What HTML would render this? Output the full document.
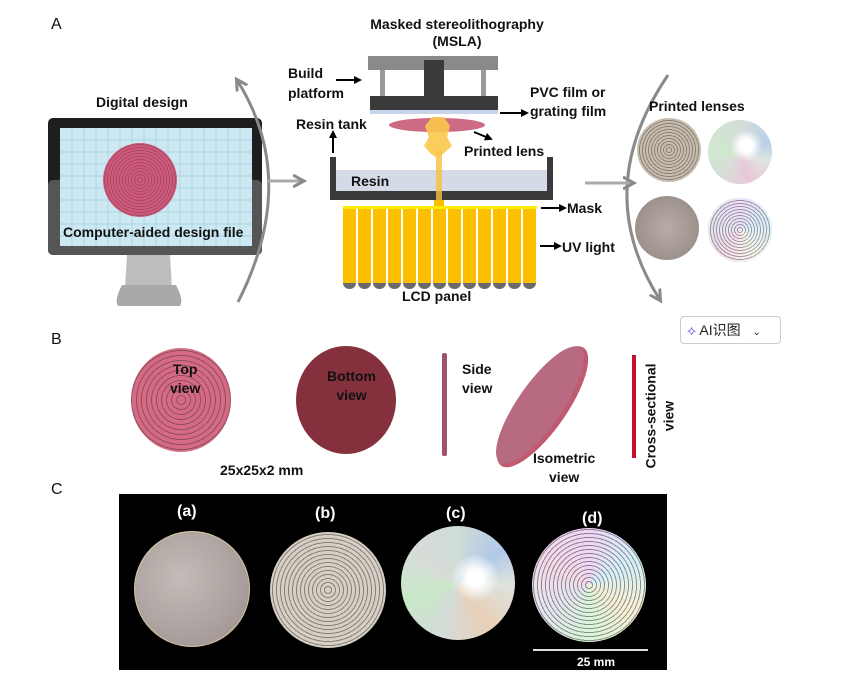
<!DOCTYPE html>
<html><head><meta charset="utf-8"><style>
body{margin:0;width:854px;height:676px;background:#fff;position:relative;overflow:hidden;font-family:"Liberation Sans","Noto Sans CJK SC",sans-serif;}
.a{position:absolute}
.t{position:absolute;font-weight:bold;font-size:14px;color:#111;white-space:nowrap;line-height:17px}
.ring{position:absolute;border-radius:50%}
</style></head><body>
<svg class="a" style="left:0;top:0" width="854" height="676">
<defs><marker id="ah" markerWidth="8" markerHeight="8" refX="6" refY="4" orient="auto" markerUnits="userSpaceOnUse"><path d="M0,0 L8,4 L0,8 z" fill="#000"/></marker>
<marker id="gh" markerWidth="14" markerHeight="14" refX="10" refY="7" orient="auto" markerUnits="userSpaceOnUse"><path d="M0,1 L11,7 L0,13" fill="none" stroke="#8a8a8a" stroke-width="3"/></marker></defs>
<rect x="48" y="118" width="214" height="137" rx="5" fill="#1e1e1e"/>
<rect x="48" y="180" width="214" height="75" rx="5" fill="#555"/>
<rect x="60" y="128" width="192" height="118" fill="#cde8f2"/>
<g stroke="#9ccfe0" stroke-width="0.7">
<path d="M72 128V246M84 128V246M96 128V246M108 128V246M120 128V246M132 128V246M144 128V246M156 128V246M168 128V246M180 128V246M192 128V246M204 128V246M216 128V246M228 128V246M240 128V246"/>
<path d="M60 140H252M60 152H252M60 164H252M60 176H252M60 188H252M60 200H252M60 212H252M60 224H252M60 236H252"/>
</g>
<path d="M127 255 L170 255 L172 288 L125 288 z" fill="#bdbdbd"/>
<path d="M122 285 L176 285 Q184 300 180 306 L118 306 Q114 300 122 285z" fill="#a9a9a9"/>
<path d="M238 302 Q300 180 237 80" fill="none" stroke="#8a8a8a" stroke-width="3" marker-end="url(#gh)"/>
<line x1="268" y1="181" x2="303" y2="181" stroke="#aaa" stroke-width="3" marker-end="url(#gh)"/>
<path d="M668 75 Q590 190 660 300" fill="none" stroke="#8a8a8a" stroke-width="3" marker-end="url(#gh)"/>
<line x1="585" y1="183" x2="633" y2="183" stroke="#aaa" stroke-width="3" marker-end="url(#gh)"/>
<rect x="368" y="56" width="130" height="14" fill="#8a8a8a"/>
<rect x="380" y="70" width="5" height="27" fill="#999"/>
<rect x="481" y="70" width="5" height="27" fill="#999"/>
<rect x="424" y="60" width="20" height="37" fill="#3a3a3a"/>
<rect x="370" y="96" width="128" height="14" fill="#3a3a3a"/>
<rect x="370" y="110" width="128" height="4" fill="#c8d4ec"/>
<ellipse cx="437" cy="125" rx="48" ry="7" fill="#c4516f" opacity="0.85"/>
<rect x="336" y="170" width="211" height="21" fill="#d5dbe6"/>
<path d="M330 157h6v34h211v-34h6v43h-223z" fill="#3a3a3a"/>
<rect x="436" y="150" width="6" height="52" fill="#f5c040" opacity="0.8"/>
<path d="M432 117 L444 117 L450 126 L447 137 L452 146 L444 153 L437 158 L430 153 L424 146 L429 137 L425 126z" fill="#fbc84a" opacity="0.9"/>
<rect x="434" y="200" width="10" height="8" fill="#fcc000"/>
<rect x="343" y="206" width="194" height="3" fill="#ffee00"/>
<g fill="#fcc000">
<rect x="343" y="209" width="13" height="74"/><rect x="358" y="209" width="13" height="74"/><rect x="373" y="209" width="13" height="74"/><rect x="388" y="209" width="13" height="74"/><rect x="403" y="209" width="13" height="74"/><rect x="418" y="209" width="13" height="74"/><rect x="433" y="209" width="13" height="74"/><rect x="448" y="209" width="13" height="74"/><rect x="463" y="209" width="13" height="74"/><rect x="478" y="209" width="13" height="74"/><rect x="493" y="209" width="13" height="74"/><rect x="508" y="209" width="13" height="74"/><rect x="523" y="209" width="13" height="74"/>
</g>
<g fill="#6a6a6a">
<path d="M343 283h13a6.5 6 0 0 1-13 0z"/><path d="M358 283h13a6.5 6 0 0 1-13 0z"/><path d="M373 283h13a6.5 6 0 0 1-13 0z"/><path d="M388 283h13a6.5 6 0 0 1-13 0z"/><path d="M403 283h13a6.5 6 0 0 1-13 0z"/><path d="M418 283h13a6.5 6 0 0 1-13 0z"/><path d="M433 283h13a6.5 6 0 0 1-13 0z"/><path d="M448 283h13a6.5 6 0 0 1-13 0z"/><path d="M463 283h13a6.5 6 0 0 1-13 0z"/><path d="M478 283h13a6.5 6 0 0 1-13 0z"/><path d="M493 283h13a6.5 6 0 0 1-13 0z"/><path d="M508 283h13a6.5 6 0 0 1-13 0z"/><path d="M523 283h13a6.5 6 0 0 1-13 0z"/>
</g>
<g stroke="#000" stroke-width="2" marker-end="url(#ah)">
<line x1="336" y1="80" x2="360" y2="80"/>
<line x1="333" y1="153" x2="333" y2="132"/>
<line x1="500" y1="113" x2="527" y2="113"/>
<line x1="474" y1="132" x2="491" y2="139"/>
<line x1="541" y1="208" x2="565" y2="208"/>
<line x1="540" y1="246" x2="560" y2="246"/>
</g>
<ellipse cx="346" cy="400" rx="50" ry="54" fill="#85303d"/>
<rect x="442" y="353" width="5" height="103" rx="2" fill="#a05070"/>
<g transform="translate(540,405) rotate(-55)"><ellipse cx="0" cy="3" rx="72" ry="24" fill="#c05a70"/><ellipse cx="0" cy="0" rx="70" ry="22" fill="#b86a80"/></g>
<rect x="632" y="355" width="4" height="103" fill="#c8102e"/>
<rect x="119" y="494" width="548" height="176" fill="#000"/>
<line x1="533" y1="650" x2="648" y2="650" stroke="#ddd" stroke-width="2"/>
</svg>
<div class="ring" style="left:103px;top:143px;width:74px;height:74px;background:repeating-radial-gradient(circle,#d25a78 0 2px,#a24a6a 2px 3px)"></div>
<div class="ring" style="left:131px;top:348px;width:100px;height:104px;background:repeating-radial-gradient(circle,#d76a82 0 4px,#8a5066 4px 5px)"></div>
<div class="ring" style="left:637px;top:118px;width:64px;height:64px;background:repeating-radial-gradient(circle,#c8beb0 0 2px,#8a8076 2px 3px)"></div>
<div class="ring" style="left:708px;top:120px;width:64px;height:64px;background:radial-gradient(circle at 60% 40%,#fff 0 6px,transparent 16px),conic-gradient(#d5ddd8 0,#b8d0e8 20%,#e0e4e0 30%,#e8c8d8 45%,#d8ddd8 60%,#cfe8cf 75%,#d5ddd8)"></div>
<div class="ring" style="left:635px;top:196px;width:64px;height:64px;background:radial-gradient(circle,#b8aca8,#928680)"></div>
<div class="ring" style="left:708px;top:198px;width:64px;height:64px;background:repeating-radial-gradient(circle,rgba(255,255,255,.5) 0 2px,rgba(80,80,90,.45) 2px 3px),conic-gradient(#e0c0f0,#bde,#eed,#e8c0d8,#ccd,#e0c0f0)"></div>
<div class="ring" style="left:134px;top:531px;width:114px;height:114px;background:radial-gradient(circle at 40% 40%,#c4bcb8,#9a8e8c);border:1px solid #d8c8a0"></div>
<div class="ring" style="left:270px;top:532px;width:116px;height:116px;background:repeating-radial-gradient(circle,#d5cfc6 0 3px,#8a8078 3px 4px)"></div>
<div class="ring" style="left:401px;top:526px;width:114px;height:114px;background:radial-gradient(circle at 65% 45%,#fff 0 8px,transparent 24px),conic-gradient(#d0dcd8,#b0c8e8 15%,#dde2de 25%,#e8d0b8 40%,#d5dcd8 55%,#c8e8c8 70%,#d8dcd8 85%,#d0dcd8)"></div>
<div class="ring" style="left:532px;top:528px;width:114px;height:114px;background:repeating-radial-gradient(circle,rgba(255,255,255,.5) 0 3px,rgba(70,70,80,.5) 3px 4px),conic-gradient(#e0b0e8,#b0e0f0,#eee0b0,#b8e8b8,#ccd,#e8b8d0,#e0b0e8)"></div>
<div class="t" style="left:51px;top:16px;font-weight:normal;font-size:16px">A</div>
<div class="t" style="left:51px;top:331px;font-weight:normal;font-size:16px">B</div>
<div class="t" style="left:51px;top:481px;font-weight:normal;font-size:16px">C</div>
<div class="t" style="left:96px;top:94px">Digital design</div>
<div class="t" style="left:63px;top:224px">Computer-aided design file</div>
<div class="t" style="left:340px;top:16px;width:234px;text-align:center">Masked stereolithography<br>(MSLA)</div>
<div class="t" style="left:288px;top:63px;line-height:20px">Build<br>platform</div>
<div class="t" style="left:296px;top:116px">Resin tank</div>
<div class="t" style="left:530px;top:83px;line-height:19px">PVC film or<br>grating film</div>
<div class="t" style="left:464px;top:143px">Printed lens</div>
<div class="t" style="left:351px;top:173px">Resin</div>
<div class="t" style="left:567px;top:200px">Mask</div>
<div class="t" style="left:562px;top:239px">UV light</div>
<div class="t" style="left:402px;top:288px">LCD panel</div>
<div class="t" style="left:649px;top:98px">Printed lenses</div>
<div class="a" style="left:680px;top:316px;width:99px;height:26px;border:1px solid #ccc;border-radius:4px;font-size:14px;line-height:26px;color:#222"><span style="color:#7a4fe0;margin-left:6px">⟡</span> AI识图 <span style="margin-left:8px;font-size:10px">⌄</span></div>
<div class="t" style="left:170px;top:360px;text-align:center;line-height:19px">Top<br>view</div>
<div class="t" style="left:327px;top:367px;text-align:center;line-height:19px">Bottom<br>view</div>
<div class="t" style="left:462px;top:360px;line-height:19px">Side<br>view</div>
<div class="t" style="left:533px;top:449px;text-align:center;line-height:19px">Isometric<br>view</div>
<div class="t" style="left:220px;top:462px">25x25x2 mm</div>
<div class="t" style="left:607px;top:398px;transform:rotate(-90deg);width:105px;text-align:center;line-height:18px">Cross-sectional<br>view</div>
<div class="t" style="left:177px;top:503px;color:#fff;font-size:16px">(a)</div>
<div class="t" style="left:315px;top:505px;color:#fff;font-size:16px">(b)</div>
<div class="t" style="left:446px;top:505px;color:#fff;font-size:16px">(c)</div>
<div class="t" style="left:582px;top:510px;color:#fff;font-size:16px">(d)</div>
<div class="t" style="left:577px;top:654px;color:#fff;font-size:12px">25 mm</div>
</body></html>
